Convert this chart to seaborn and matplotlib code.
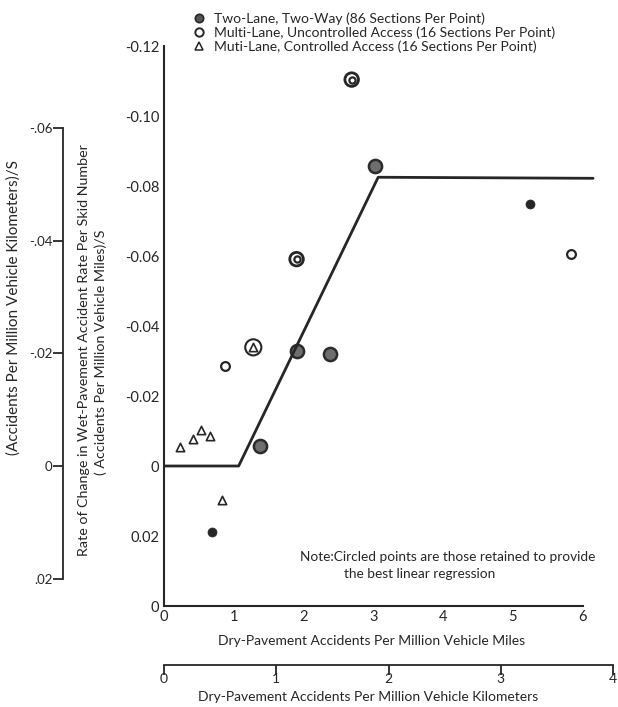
import pandas as pd
import matplotlib.pyplot as plt
import seaborn as sns
from matplotlib.lines import Line2D

sns.set_style("white")
plt.rcParams["font.family"] = ["Lato", "DejaVu Sans"]

# data (dry-pavement rate in per million vehicle miles)
two_x = [0.69, 1.38, 1.91, 2.38, 3.03, 5.24]
two_y = [0.0188, -0.0058, -0.033, -0.032, -0.0856, -0.0749]
two_circled = [False, True, True, True, True, False]

multi_x = [0.87, 1.90, 2.69, 5.83]
multi_y = [-0.0287, -0.0591, -0.1104, -0.0606]
multi_circled = [False, True, True, False]

ctrl_x = [0.23, 0.42, 0.53, 0.66, 0.83, 1.28]
ctrl_y = [-0.0053, -0.0077, -0.0104, -0.0085, 0.0098, -0.0339]
ctrl_circled = [False, False, False, False, False, True]

fit_x = [0.0, 1.07, 3.07, 6.15]
fit_y = [0.0, 0.0, -0.0825, -0.0822]

mile_ticks = [0, 1, 2, 3, 4, 5, 6]
km_ticks = [0, 1, 2, 3, 4]
y_ticks = [-0.12, -0.10, -0.08, -0.06, -0.04, -0.02, 0, 0.02, 0.04]
y_labels = ["-0.12", "-0.10", "-0.08", "-0.06", "-0.04", "-0.02", "0", "0.02", "0"]
ykm_ticks = [-0.06, -0.04, -0.02, 0, 0.02]
ykm_labels = ["-.06", "-.04", "-.02", "0", ".02"]

legend_labels = [
    "Two-Lane, Two-Way (86 Sections Per Point)",
    "Multi-Lane, Uncontrolled Access (16 Sections Per Point)",
    "Muti-Lane, Controlled Access (16 Sections Per Point)",
]

MI_PER_KM = 1.609

df = pd.concat([
    pd.DataFrame({"x": two_x, "y": two_y, "kind": "two", "circled": two_circled}),
    pd.DataFrame({"x": multi_x, "y": multi_y, "kind": "multi", "circled": multi_circled}),
    pd.DataFrame({"x": ctrl_x, "y": ctrl_y, "kind": "ctrl", "circled": ctrl_circled}),
], ignore_index=True)

ink = "#262626"
fs = 10

fig = plt.figure(figsize=(6.18, 7.07), dpi=100)
ax = fig.add_axes([164 / 618, 101 / 707, 450 / 618, 577.5 / 707])

# fitted broken line
sns.lineplot(x=fit_x, y=fit_y, sort=False, estimator=None, color=ink, lw=2.0, ax=ax)

# two-lane points
d = df[(df.kind == "two") & ~df.circled]
sns.scatterplot(data=d, x="x", y="y", marker="o", s=42, color=ink, edgecolor=ink, ax=ax)
d = df[(df.kind == "two") & df.circled]
sns.scatterplot(data=d, x="x", y="y", marker="o", s=90, color="#6e6e6e",
                edgecolor="#2c2c2c", linewidth=1.8, ax=ax)

# multi-lane uncontrolled
d = df[(df.kind == "multi") & ~df.circled]
sns.scatterplot(data=d, x="x", y="y", marker="o", s=40, color="white",
                edgecolor=ink, linewidth=1.6, ax=ax)
d = df[(df.kind == "multi") & df.circled]
sns.scatterplot(data=d, x="x", y="y", marker="o", s=20, color="white",
                edgecolor=ink, linewidth=1.6, ax=ax)
sns.scatterplot(data=d, x="x", y="y", marker="o", s=95, color="none",
                edgecolor=ink, linewidth=2.0, ax=ax)

# multi-lane controlled
d = df[df.kind == "ctrl"]
sns.scatterplot(data=d, x="x", y="y", marker="^", s=36, color="white",
                edgecolor=ink, linewidth=1.2, ax=ax)
d = df[(df.kind == "ctrl") & df.circled]
sns.scatterplot(data=d, x="x", y="y", marker="o", s=135, color="none",
                edgecolor=ink, linewidth=1.5, ax=ax)

ax.set_xlim(0, 6.45)
ax.set_ylim(0.04, -0.125)
ax.set_xlabel("")
ax.set_ylabel("")
for side in ["top", "right"]:
    ax.spines[side].set_visible(False)
for side in ["left", "bottom"]:
    ax.spines[side].set_color(ink)
    ax.spines[side].set_linewidth(1.5)
ax.spines["left"].set_bounds(0.04, -0.12)
ax.spines["bottom"].set_bounds(0, 6)
ax.set_xticks(mile_ticks)
ax.set_xticklabels([str(t) for t in mile_ticks])
ax.set_yticks(y_ticks)
ax.set_yticklabels(y_labels)
ax.tick_params(direction="in", length=7, width=1.3, color=ink, labelsize=10.5,
               labelcolor=ink)
ax.tick_params(axis="x", pad=3)

# kilometre x axis (ticks drawn "out" end up pointing up on this secondary axis)
sec_x = ax.secondary_xaxis(-0.102, functions=(lambda v: v / MI_PER_KM,
                                                 lambda v: v * MI_PER_KM))
sec_x.set_alignment("bottom")
sec_x.set_xticks(km_ticks)
sec_x.set_xticklabels([str(t) for t in km_ticks])
sec_x.spines["bottom"].set_bounds(0, 4)
sec_x.spines["bottom"].set_color(ink)
sec_x.spines["bottom"].set_linewidth(1.3)
sec_x.tick_params(direction="out", length=7, width=1.3, color=ink, labelsize=10,
                  labelcolor=ink, pad=-1.5)

# kilometre y axis
sec_y = ax.secondary_yaxis(-0.2244, functions=(lambda v: v / MI_PER_KM,
                                                  lambda v: v * MI_PER_KM))
sec_y.set_alignment("left")
sec_y.set_yticks(ykm_ticks)
sec_y.set_yticklabels(ykm_labels)
sec_y.spines["left"].set_bounds(0.02, -0.06)
sec_y.spines["left"].set_color(ink)
sec_y.spines["left"].set_linewidth(1.3)
sec_y.tick_params(direction="out", length=7, width=1.3, color=ink, labelsize=9.5,
                  labelcolor=ink, pad=0.5)

# axis titles
fig.text(372 / 618, 1 - 641 / 707, "Dry-Pavement Accidents Per Million Vehicle Miles",
         ha="center", va="center", fontsize=fs, color=ink)
fig.text(368 / 618, 1 - 697 / 707, "Dry-Pavement Accidents Per Million Vehicle Kilometers",
         ha="center", va="center", fontsize=fs, color=ink)
fig.text(84 / 618, 1 - 350 / 707,
         "Rate of Change in Wet-Pavement Accident Rate Per Skid Number",
         rotation=90, ha="center", va="center", fontsize=10.3, color=ink)
fig.text(101 / 618, 1 - 352 / 707, "( Accidents Per Million Vehicle Miles)/S",
         rotation=90, ha="center", va="center", fontsize=10.3, color=ink)
fig.text(14 / 618, 1 - 308 / 707, "(Accidents Per Million Vehicle Kilometers)/S",
         rotation=90, ha="center", va="center", fontsize=11, color=ink)

# note
fig.text(300 / 618, 1 - 557 / 707, "Note:Circled points are those retained to provide",
         ha="left", va="center", fontsize=9.8, color=ink)
fig.text(344 / 618, 1 - 574 / 707, "the best linear regression",
         ha="left", va="center", fontsize=9.8, color=ink)

# legend
handles = [
    Line2D([], [], ls="none", marker="o", ms=6, mfc="#555555", mec=ink, mew=1.2),
    Line2D([], [], ls="none", marker="o", ms=6, mfc="white", mec=ink, mew=1.4),
    Line2D([], [], ls="none", marker="^", ms=6, mfc="white", mec=ink, mew=1.1),
]
leg = fig.legend(handles, legend_labels, loc="upper left",
                 bbox_to_anchor=(188 / 618, 1 - 7 / 707), frameon=False,
                 fontsize=fs, handlelength=0.8, handletextpad=0.7,
                 labelspacing=0.1, borderaxespad=0)
for t in leg.get_texts():
    t.set_color(ink)

fig.savefig("out.png", dpi=100)
